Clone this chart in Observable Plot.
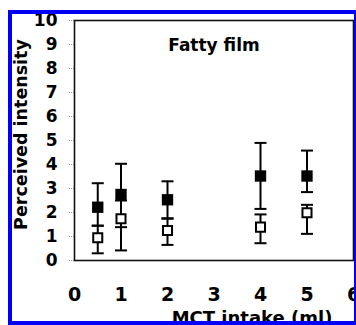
<!DOCTYPE html>
<html><head><meta charset="utf-8">
<script src="https://cdn.jsdelivr.net/npm/d3@7"></script>
<script src="https://cdn.jsdelivr.net/npm/@observablehq/plot@0.6"></script>
<style>
html,body{margin:0;padding:0;background:#fff;overflow:hidden;width:356px;height:325px}
#wrap{position:relative;width:356px;height:325px;overflow:hidden}
#border{position:absolute;left:8px;top:10px;width:350px;height:315px;box-sizing:border-box;border:4px solid #0000f5;pointer-events:none}
</style></head><body>
<div id="wrap"><div id="chart"></div><div id="border"></div></div>
<script>
// MCT intake (ml)
const intake = [0.5, 1, 2, 4, 5];
// Filled squares: mean and error bar ends
const filledMean = [2.22, 2.75, 2.53, 3.52, 3.52];
const filledLo   = [1.45, 1.39, 1.74, 2.15, 2.85];
const filledHi   = [3.22, 4.03, 3.30, 4.90, 4.58];
// Open squares: mean and error bar ends
const openMean = [0.95, 1.74, 1.25, 1.39, 1.99];
const openLo   = [0.30, 0.42, 0.65, 0.72, 1.11];
const openHi   = [1.45, 2.50, 1.76, 1.92, 2.32];
// Axis ticks and labels
const xTicks = [0, 1, 2, 3, 4, 5, 6];
const yTicks = [0, 1, 2, 3, 4, 5, 6, 7, 8, 9, 10];
const title = "Fatty film";
const xLabel = "MCT intake (ml)";
const yLabel = "Perceived intensity";

const filled = intake.map((x, i) => ({x, mean: filledMean[i], lo: filledLo[i], hi: filledHi[i]}));
const open = intake.map((x, i) => ({x, mean: openMean[i], lo: openLo[i], hi: openHi[i]}));

const cap = {draw(ctx, size) { const r = Math.sqrt(size / Math.PI); ctx.moveTo(-r, 0); ctx.lineTo(r, 0); }};
const font = "DejaVu Sans";

const chart = Plot.plot({
  width: 356,
  height: 325,
  marginLeft: 74,
  marginTop: 20,
  marginRight: 3,
  marginBottom: 65,
  style: {fontFamily: font, background: "white", color: "black"},
  x: {domain: [0, 6], ticks: xTicks},
  y: {domain: [0, 10], ticks: yTicks},
  marks: [
    Plot.axisY({ticks: yTicks, tickFormat: d3.format("d"), tickSize: 5, tickPadding: 12, stroke: "#999", strokeDasharray: "1,1", fontSize: 17, fontWeight: "bold", label: null}),
    Plot.axisX({ticks: xTicks, tickFormat: d3.format("d"), tickSize: 0, tickPadding: 27, fontSize: 19, fontWeight: "bold", label: null}),
    Plot.frame({stroke: "#111", strokeWidth: 1.6}),
    Plot.ruleX(open, {x: "x", y1: "lo", y2: "hi", stroke: "black", strokeWidth: 2}),
    Plot.ruleX(filled, {x: "x", y1: "lo", y2: "hi", stroke: "black", strokeWidth: 2}),
    Plot.dot(open, {x: "x", y: "lo", symbol: cap, r: 6, stroke: "black", strokeWidth: 2}),
    Plot.dot(open, {x: "x", y: "hi", symbol: cap, r: 6, stroke: "black", strokeWidth: 2}),
    Plot.dot(filled, {x: "x", y: "lo", symbol: cap, r: 6, stroke: "black", strokeWidth: 2}),
    Plot.dot(filled, {x: "x", y: "hi", symbol: cap, r: 6, stroke: "black", strokeWidth: 2}),
    Plot.dot(open, {x: "x", y: "mean", symbol: "square", r: 5.1, fill: "white", stroke: "black", strokeWidth: 2}),
    Plot.dot(filled, {x: "x", y: "mean", symbol: "square", r: 6.4, fill: "black", stroke: "none"}),
    Plot.text([title], {x: 3.0, y: 8.95, text: d => d, fontSize: 17, fontWeight: "bold", fill: "black"}),
    Plot.text([xLabel], {frameAnchor: "bottom", text: d => d, dx: 38, dy: 63, fontSize: 18, fontWeight: "bold", fill: "black"}),
    Plot.text([yLabel], {frameAnchor: "left", text: d => d, rotate: -90, textAnchor: "middle", lineAnchor: "middle", dx: -53, dy: -6, fontSize: 17.5, fontWeight: "bold", fill: "black"})
  ]
});
document.getElementById("chart").appendChild(chart);
</script>
</body></html>
